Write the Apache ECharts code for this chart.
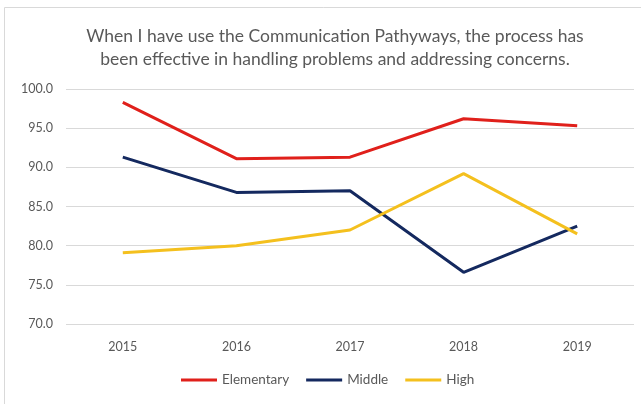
<!DOCTYPE html>
<html>
<head>
<meta charset="utf-8">
<script src="https://cdn.jsdelivr.net/npm/echarts@6/dist/echarts.min.js"></script>
<style>
  html, body { margin: 0; padding: 0; background: #fff; }
  #chart { width: 641px; height: 404px; }
</style>
</head>
<body>
<div id="chart"></div>
<script>
const years = ["2015", "2016", "2017", "2018", "2019"];
const elementary = [98.3, 91.1, 91.3, 96.2, 95.3];
const middle = [91.3, 86.8, 87.0, 76.6, 82.5];
const high = [79.1, 80.0, 82.0, 89.2, 81.5];

const chart = echarts.init(document.getElementById("chart"));

const font = "Lato, 'Open Sans', sans-serif";
const grey = "#595959";

const mkSeries = (name, data, color) => ({
  name,
  type: "line",
  data,
  symbol: "none",
  lineStyle: { color, width: 3 },
  itemStyle: { color },
});

chart.setOption({
  animation: false,
  title: {
    text: "When I have use the Communication Pathyways, the process has\nbeen effective in handling problems and addressing concerns.",
    left: 330,
    textAlign: "center",
    top: 20,
    textStyle: {
      fontFamily: font,
      fontSize: 17.5,
      fontWeight: "normal",
      color: grey,
      lineHeight: 23,
    },
  },
  graphic: [
    {
      type: "rect",
      shape: { x: 4.5, y: 7.5, width: 700, height: 500 },
      style: { fill: "none", stroke: "#d9d9d9", lineWidth: 1 },
      silent: true,
    },
  ],
  legend: {
    bottom: 12,
    left: 176,
    itemWidth: 36,
    itemHeight: 3,
    itemGap: 17,
    icon: "rect",
    textStyle: { fontFamily: font, fontSize: 13.5, color: grey },
    data: ["Elementary", "Middle", "High"],
  },
  grid: {
    left: 66,
    right: 7,
    top: 89,
    bottom: 80,
  },
  xAxis: {
    type: "category",
    data: years,
    axisLine: { show: false },
    axisTick: { show: false },
    axisLabel: { fontFamily: font, fontSize: 12.5, color: grey, margin: 16 },
  },
  yAxis: {
    type: "value",
    min: 70,
    max: 100,
    interval: 5,
    axisLine: { show: false },
    axisTick: { show: false },
    splitLine: { lineStyle: { color: "#d9d9d9" } },
    axisLabel: {
      fontFamily: font,
      fontSize: 12.5,
      color: grey,
      margin: 13,
      formatter: (v) => v.toFixed(1),
    },
  },
  series: [
    mkSeries("Elementary", elementary, "#e0201b"),
    mkSeries("Middle", middle, "#14295f"),
    mkSeries("High", high, "#f4c01e"),
  ],
});
</script>
</body>
</html>
